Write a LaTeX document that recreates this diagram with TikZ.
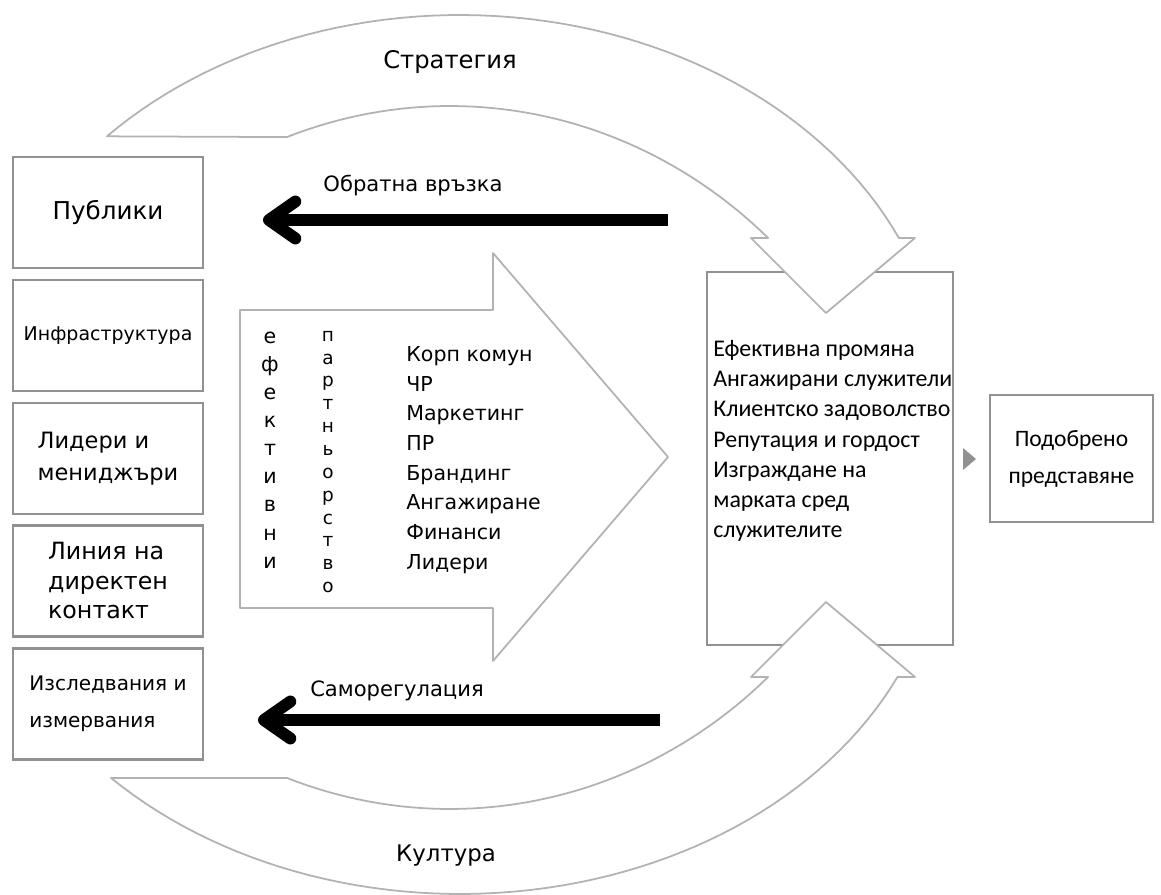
\documentclass[tikz,border=0pt]{standalone}
\usepackage{fontspec}
\setmainfont{DejaVu Sans}
\newfontfamily\calibri{Carlito}
\usetikzlibrary{arrows.meta}
\definecolor{arcgray}{RGB}{178,178,178}
\definecolor{boxgray}{RGB}{145,145,145}
\newcommand{\fs}[2]{\fontsize{#1}{#2}\selectfont}

\begin{document}
\begin{tikzpicture}[x=0.02cm,y=-0.02cm,
    box/.style={draw=boxgray,line width=1.6pt,fill=white,minimum width=3.8cm,
      minimum height=2.22cm,align=left,inner sep=1pt},
    band/.style={draw=arcgray,line width=1pt,fill=white,line join=round},
    backarrow/.style={line width=6.8pt,-{Straight Barb[length=15pt,width=21pt,round]}}]
  \useasboundingbox (0,0) rectangle (1161,895);
  % groups on the left
  \node[box,font=\fs{14}{17}] (pub) at (108,212.5) {Публики};
  \node[box,font=\fs{10.8}{13}] (infra) at (108,335.5) {Инфраструктура};
  \node[box,font=\fs{12.8}{18.5}] (lead) at (108,458.5) {Лидери и\\мениджъри};
  \node[box,font=\fs{13.5}{16.8}] (cont) at (108,581) {Линия на\\директен\\контакт};
  \node[box,font=\fs{11.4}{21}] (res) at (108,704) {Изследвания и\\измервания};
  % block arrow in the middle
  \draw[band] (240,310) -- (493,310) -- (493,253) -- (668,457) -- (493,661)
    -- (493,608) -- (240,608) -- cycle;
  \node[font=\fs{11.7}{16},align=center] (effw) at (270,450) {е\\ф\\е\\к\\т\\и\\в\\н\\и};
  \node[font=\fs{10.5}{13},align=center] (partw) at (328,462) {п\\а\\р\\т\\н\\ь\\о\\р\\с\\т\\в\\о};
  \node[font=\fs{11.7}{16.9},align=left,anchor=west,inner sep=0] (funcs) at (406,460)
    {Корп комун\\ЧР\\Маркетинг\\ПР\\Брандинг\\Ангажиране\\Финанси\\Лидери};
  % results box
  \node[draw=boxgray,line width=1.6pt,fill=white,minimum width=4.92cm,
    minimum height=7.46cm] (out) at (830,458.5) {};
  % strategy
  \draw[band] plot[domain=0:112.7,samples=60] ({460+482*cos(137.1-\x)},{395-380*sin(137.1-\x)})
    -- (915,238) -- (826,313) -- (751,238) -- (768,238)
    -- plot[domain=47.4:110.3,samples=50] ({450+470*cos(\x)},{606-500*sin(\x)}) -- cycle;
  % culture
  \draw[band] plot[domain=0:111.58,samples=60] ({460+482*cos(136.4-\x)},{520+374*sin(136.4-\x)})
    -- (915,677) -- (826,602) -- (751,677) -- (768,677)
    -- plot[domain=47.4:110.3,samples=50] ({450+470*cos(\x)},{309+500*sin(\x)}) -- cycle;
  \node[font=\calibri\fs{13.6}{17.2},align=left,anchor=west,inner sep=0] (gains) at (713,441)
    {Ефективна промяна\\Ангажирани служители\\Клиентско задоволство\\Репутация и гордост\\
     Изграждане на\\марката сред\\служителите};
  % improved performance
  \node[draw=boxgray,line width=1.6pt,minimum width=3.26cm,minimum height=2.54cm,
    align=center,font=\calibri\fs{13.4}{21}] (perf) at (1071.5,458.5) {Подобрено\\представяне};
  \fill[boxgray] (963,448) -- (976,459) -- (963,470) -- cycle;
  % feedback loops
  \coordinate (fbs) at (668,220);
  \coordinate (fbe) at (263,220);
  \coordinate (srs) at (660,720);
  \coordinate (sre) at (258,720);
  \draw[backarrow] (fbs) -- (fbe);
  \draw[backarrow] (srs) -- (sre);
  \node[font=\fs{12}{14}] (fb) at (413,186) {Обратна връзка};
  \node[font=\fs{12}{14}] (sr) at (397,691) {Саморегулация};
  \node[font=\fs{13.8}{16}] (strat) at (450,62) {Стратегия};
  \node[font=\fs{13}{16}] (cult) at (446,856) {Култура};
\end{tikzpicture}
\end{document}
